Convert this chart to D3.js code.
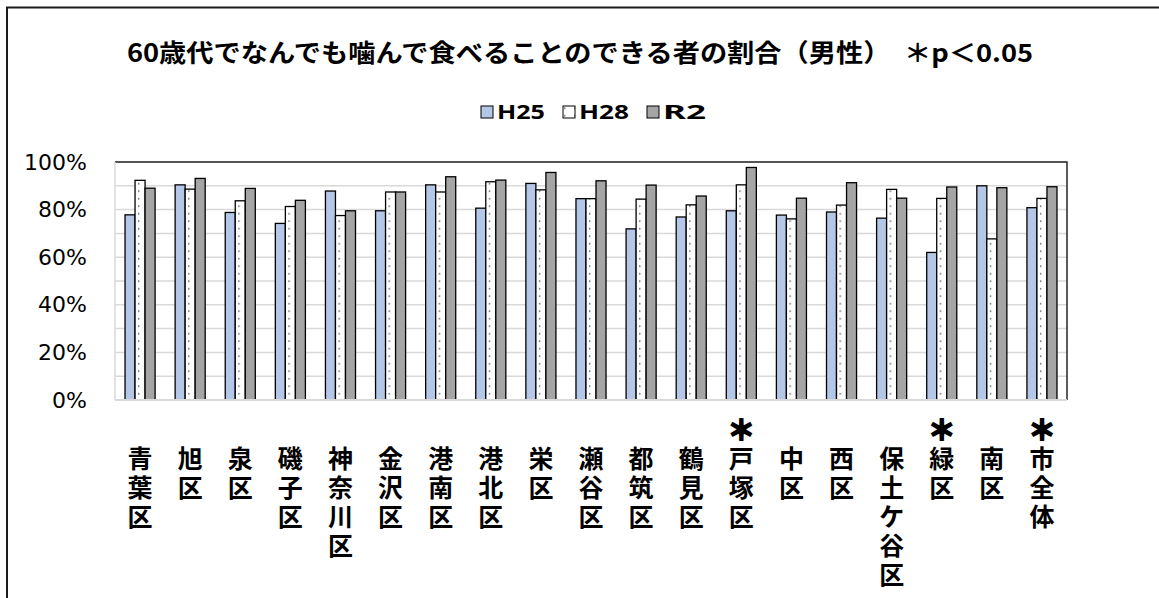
<!DOCTYPE html>
<html>
<head>
<meta charset="utf-8">
<script src="https://cdn.jsdelivr.net/npm/d3@7"></script>
<style>
  body { margin: 0; background: #fff; }
  svg { display: block; }
</style>
</head>
<body>
<div id="chart"></div>
<script>
const categories = ['青葉区', '旭区', '泉区', '磯子区', '神奈川区', '金沢区', '港南区', '港北区', '栄区', '瀬谷区',
    '都筑区', '鶴見区', '戸塚区', '中区', '西区', '保土ケ谷区', '緑区', '南区', '市全体']
const sigCats = ['戸塚区', '緑区', '市全体']
const seriesNames = ['H25', 'H28', 'R2']
const h25 = [77.8, 90.4, 78.8, 74.2, 87.8, 79.5, 90.4, 80.6, 91.0, 84.6, 71.9, 76.9, 79.5, 77.7, 79.0, 76.4, 62.0, 90.0, 80.8]
const h28 = [92.3, 88.6, 83.7, 81.3, 77.5, 87.4, 87.4, 91.7, 88.3, 84.6, 84.4, 82.0, 90.4, 76.1, 81.9, 88.5, 84.7, 67.7, 84.7]
const r2 = [89.0, 93.1, 88.9, 83.9, 79.5, 87.4, 93.8, 92.4, 95.6, 92.1, 90.3, 85.7, 97.7, 84.8, 91.3, 84.8, 89.5, 89.2, 89.6]
const yTicks = [0, 20, 40, 60, 80, 100]

const values = { H25: h25, H28: h28, R2: r2 }
const fills = { H25: '#b4c7e7', H28: 'url(#dots)', R2: '#a5a5a5' }
const jp = '"Noto Sans CJK JP", "Noto Sans", sans-serif'

const width = 1159
const height = 598
const plot = { left: 115, right: 1067, top: 162, bottom: 400 }

const svg = d3.select('#chart')
    .append('svg')
    .attr('width', width)
    .attr('height', height)

const pat = svg.append('defs').append('pattern')
    .attr('id', 'dots')
    .attr('patternUnits', 'userSpaceOnUse')
    .attr('width', 10)
    .attr('height', 7.5)
pat.append('rect').attr('width', 10).attr('height', 7.5).attr('fill', '#fff')
pat.append('rect').attr('x', 3).attr('y', 3).attr('width', 1.4).attr('height', 1.4).attr('fill', '#44546a')

// outer frame (runs off the right and bottom edge)
svg.append('rect')
    .attr('x', 7).attr('y', 7.5)
    .attr('width', 1300).attr('height', 800)
    .attr('fill', 'none')
    .attr('stroke', '#1a1a1a')
    .attr('stroke-width', 2)

svg.append('text')
    .attr('x', 580)
    .attr('y', 62)
    .attr('text-anchor', 'middle')
    .attr('textLength', 906)
    .attr('lengthAdjust', 'spacingAndGlyphs')
    .style('font-family', jp)
    .style('font-weight', 700)
    .style('font-size', '25px')
    .text('60歳代でなんでも噛んで食べることのできる者の割合（男性）　＊p＜0.05')

const xScale = d3.scaleBand().domain(categories).range([plot.left, plot.right]).paddingInner(0.4).paddingOuter(0.2)
const xInner = d3.scaleBand().domain(seriesNames).range([0, xScale.bandwidth()])
const yScale = d3.scaleLinear().domain([0, 100]).range([plot.bottom, plot.top])

// gridlines every 10%
svg.append('g')
    .selectAll('line')
    .data(yScale.ticks(10))
    .enter()
    .append('line')
    .attr('x1', plot.left).attr('x2', plot.right)
    .attr('y1', (d) => yScale(d)).attr('y2', (d) => yScale(d))
    .attr('stroke', '#d9d9d9')
    .attr('stroke-width', 1.5)

// plot frame: dark top and right, light left and bottom
svg.append('path')
    .attr('d', `M${plot.left},${plot.top}H${plot.right}V${plot.bottom}`)
    .attr('fill', 'none')
    .attr('stroke', '#262626')
    .attr('stroke-width', 1.5)
svg.append('line')
    .attr('x1', plot.left).attr('x2', plot.left)
    .attr('y1', plot.top).attr('y2', plot.bottom)
    .attr('stroke', '#d9d9d9').attr('stroke-width', 1.5)

const groups = svg.append('g')
    .selectAll('g')
    .data(categories)
    .enter()
    .append('g')
    .attr('transform', (d) => `translate(${xScale(d)},0)`)

groups.selectAll('rect')
    .data((c, i) => seriesNames.map((s) => ({ s, v: values[s][i] })))
    .enter()
    .append('rect')
    .attr('x', (d) => xInner(d.s))
    .attr('width', xInner.bandwidth())
    .attr('y', (d) => yScale(d.v))
    .attr('height', (d) => plot.bottom - yScale(d.v))
    .attr('fill', (d) => fills[d.s])
    .attr('stroke', '#000')
    .attr('stroke-width', 1.3)

svg.append('line')
    .attr('x1', plot.left).attr('x2', plot.right)
    .attr('y1', plot.bottom).attr('y2', plot.bottom)
    .attr('stroke', '#d9d9d9').attr('stroke-width', 2)

const yAxis = d3.axisLeft(yScale).tickValues(yTicks).tickSize(0).tickPadding(28).tickFormat((d) => d + '%')
svg.append('g')
    .attr('transform', `translate(${plot.left},0)`)
    .call(yAxis)
    .call((g) => g.select('.domain').remove())
    .selectAll('text')
    .style('font-family', '"DejaVu Sans", sans-serif')
    .style('font-size', '22px')
    .attr('fill', '#000')

// category labels stacked vertically, one character per line
const xAxis = d3.axisBottom(xScale).tickSize(0).tickFormat('')
const xg = svg.append('g')
    .attr('transform', `translate(0,${plot.bottom})`)
    .call(xAxis)
xg.select('.domain').remove()
xg.selectAll('.tick text').remove()
xg.selectAll('.tick').each(function (c) {
    const t = d3.select(this).append('text')
        .attr('text-anchor', 'middle')
        .attr('fill', '#000')
        .style('font-family', jp)
        .style('font-weight', 700)
        .style('font-size', '25px')
    const chars = Array.from(c)
    if (sigCats.includes(c)) {
        t.append('tspan').attr('x', 0).attr('y', 40)
            .style('font-size', '27px')
            .attr('stroke', '#000')
            .attr('stroke-width', 2.2)
            .text('＊')
    }
    chars.forEach((ch, i) => {
        t.append('tspan').attr('x', 0).attr('y', 68 + i * 29).text(ch)
    })
})

// legend
const legendWidths = { H25: 48, H28: 50, R2: 43 }
const legend = svg.append('g').attr('transform', 'translate(481,112)')
let lx = 0
seriesNames.forEach((s) => {
    legend.append('rect')
        .attr('x', lx).attr('y', -6)
        .attr('width', 12).attr('height', 12)
        .attr('fill', fills[s])
        .attr('stroke', '#000')
        .attr('stroke-width', 1)
    legend.append('text')
        .attr('x', lx + 16)
        .attr('y', 7)
        .attr('textLength', legendWidths[s])
        .attr('lengthAdjust', 'spacingAndGlyphs')
        .style('font-family', '"Noto Sans", sans-serif')
        .style('font-weight', 700)
        .style('font-size', '20px')
        .text(s)
    lx += 16 + legendWidths[s] + 18
})
</script>
</body>
</html>
